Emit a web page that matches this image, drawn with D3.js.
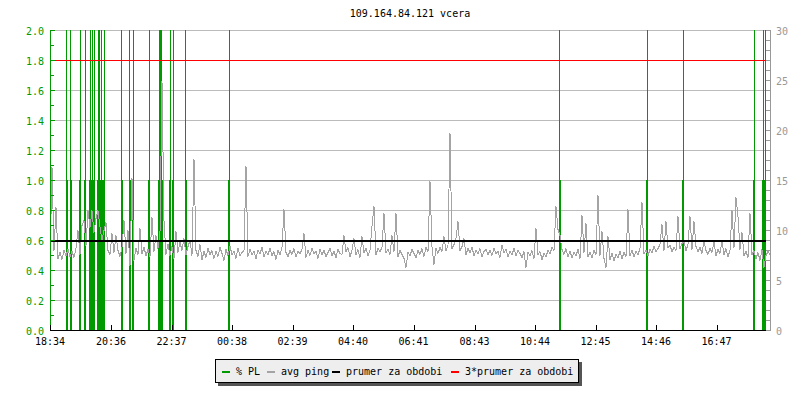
<!DOCTYPE html>
<html><head><meta charset="utf-8">
<script src="https://cdn.jsdelivr.net/npm/d3@7"></script>
<style>
html,body{margin:0;padding:0;background:#fff;}
svg{display:block;}
text{font-family:"DejaVu Sans Mono",monospace;font-size:10px;}
</style></head><body>
<svg id="c" width="800" height="400"></svg>
<script>
// ---------- data ----------
const title = "109.164.84.121 vcera";
const timeLabels = ["18:34","20:36","22:37","00:38","02:39","04:40","06:41","08:43","10:44","12:45","14:46","16:47"];
const leftLabelTicks = [0,0.2,0.4,0.6,0.8,1.0,1.2,1.4,1.6,1.8,2.0];
const rightLabelTicks = [0,5,10,15,20,25,30];
const legendNames = ["% PL","avg ping","prumer za obdobi","3*prumer za obdobi"];
const meanPing = 9;          // ms, "prumer za obdobi"
const pingStepMin = 4;       // minutes between avg ping samples
const plStepMin = 2;         // minutes per packet-loss sample
// avg ping (ms), right axis
const ping = [
6.8,16.3,8.0,12.3,7.2,7.8,7.1,8.0,7.5,8.1,
7.4,7.9,7.3,8.2,10.0,7.6,10.5,11.0,8.5,12.0,
10.3,12.0,9.8,11.2,12.0,10.4,9.0,10.0,10.8,8.0,
7.6,9.7,7.8,9.5,8.0,7.4,8.3,11.0,7.7,10.0,
6.5,15.2,7.0,8.2,7.6,10.2,7.7,8.3,7.5,8.1,
7.4,11.3,7.9,9.5,8.2,9.8,24.9,11.0,7.6,8.6,
7.5,8.4,7.2,9.9,7.8,8.8,8.0,9.2,7.6,8.4,
9.0,7.5,17.1,8.0,7.4,8.6,7.1,7.9,7.3,8.2,
7.6,8.0,7.2,7.9,7.4,8.3,7.7,7.0,8.1,7.5,
8.4,7.6,7.9,7.2,8.2,7.5,7.8,8.0,16.4,7.4,
8.1,7.6,7.9,7.2,8.0,7.7,8.3,7.4,7.9,7.6,
8.2,7.5,7.9,7.1,8.0,7.6,8.3,12.1,7.8,7.4,
8.0,7.6,8.2,7.4,7.9,7.7,8.1,9.7,7.3,8.0,
7.5,8.2,7.7,7.9,7.2,8.1,7.6,8.0,7.4,7.8,
8.2,7.5,7.9,7.3,8.1,7.7,7.6,9.5,7.9,8.3,
7.4,8.0,9.2,7.6,8.1,7.3,9.4,7.8,8.2,7.5,
8.0,10.4,12.4,7.6,8.2,7.9,8.3,11.7,7.8,8.1,
7.6,9.5,7.9,11.7,7.4,8.0,7.6,7.2,6.3,7.8,
7.5,8.1,7.7,7.3,8.0,7.6,8.2,7.4,8.3,7.9,
14.9,8.4,6.6,8.2,7.7,8.3,7.9,9.4,8.0,8.5,
19.7,8.2,8.6,9.2,10.9,8.0,8.4,9.2,7.6,8.2,
7.8,8.3,7.5,8.0,7.7,8.2,7.4,7.9,8.1,7.6,
8.0,7.5,8.2,7.7,7.9,7.3,8.5,7.8,8.1,7.4,
7.9,7.6,8.2,7.5,8.0,7.7,7.3,7.9,6.3,7.8,
7.5,8.0,7.2,10.2,7.6,7.9,7.1,7.7,7.4,8.0,
7.7,8.3,8.0,12.4,10.1,9.5,8.1,7.6,8.2,7.4,
7.9,7.3,7.8,7.5,8.1,7.2,11.5,7.8,10.7,7.4,
7.8,7.3,8.0,7.6,13.5,7.5,9.9,7.2,6.3,9.4,
7.1,7.7,7.0,7.6,7.3,7.9,7.2,7.8,7.4,12.1,
7.5,8.0,7.4,7.9,7.6,8.2,12.8,7.7,8.0,7.5,
8.1,7.8,8.4,7.9,8.2,8.6,10.6,8.0,10.9,8.3,
8.5,7.9,8.3,8.0,11.4,8.2,8.7,8.9,8.0,8.6,
11.4,8.1,10.9,8.4,7.9,8.3,7.7,9.0,8.0,7.6,
8.2,7.8,8.9,7.5,8.1,7.7,9.0,7.6,8.2,7.4,
8.0,12.0,8.3,13.3,11.4,8.1,9.8,7.5,7.9,7.3,
11.7,7.6,8.0,7.2,7.8,7.0,8.1,6.3,7.5,7.9,7.6
];
// packet loss samples (index of 2-minute sample) and values (%), left axis
const plSample = [16,17,20,21,29,30,34,35,39,40,41,42,43,44,47,48,49,50,51,52,53,54,
  71,72,79,80,82,83,98,99,108,109,110,111,112,119,120,122,123,135,136,178,179,
  509,510,596,597,632,633,703,704,712,713,714,715];
const plValue = [5,1,5,1,1,5,1,5,1,5,1,5,1,5,1,5,5,1,5,1,1,5,
  5,1,5,1,1,5,1,5,1,5,5,5,1,1,5,1,5,5,1,1,5,
  5,1,1,5,1,5,1,5,1,5,1,5];

// ---------- colours ----------
const cGreen = "#009a00", cGrey = "#a4a4a4", cAxisGrey = "#999999", cGrid = "#bbbbbb";

// ---------- layout ----------
const X0 = 50, X1 = 770, Y0 = 330, Y1 = 30, XDATAEND = 766;
const svg = d3.select("#c");
const x = d3.scaleLinear().domain([0, 1440]).range([X0, X1]);
const yL = d3.scaleLinear().domain([0, 2]).range([Y0, Y1]);
const yR = d3.scaleLinear().domain([0, 30]).range([Y0, Y1]);
const startMin = 18*60 + 34;
const labelMin = s => { const [h,m] = s.split(":").map(Number); return ((h*60+m) - startMin + 1440) % 1440; };

// grid
svg.append("g").selectAll("line").data(leftLabelTicks.filter(d => d > 0)).join("line")
  .attr("x1", X0).attr("x2", X1 + 1)
  .attr("y1", d => Math.round(yL(d)) + 0.5).attr("y2", d => Math.round(yL(d)) + 0.5)
  .attr("stroke", cGrid).attr("stroke-width", 1).attr("shape-rendering", "crispEdges");

// packet loss bars
const pl = plSample.map((s, i) => ({s, v: plValue[i]}));
svg.append("g").selectAll("rect").data(pl).join("rect")
  .attr("x", d => x(d.s * plStepMin))
  .attr("width", d => x((d.s + 1) * plStepMin) - x(d.s * plStepMin))
  .attr("y", d => yL(Math.min(d.v, 2)))
  .attr("height", d => Y0 - yL(Math.min(d.v, 2)))
  .attr("fill", cGreen).attr("shape-rendering", "crispEdges");

// avg ping line
const line = d3.line().x((d, i) => x(i * pingStepMin)).y(d => Math.round(yR(d)) + 0.5);
svg.append("path").datum(ping).attr("d", line)
  .attr("fill", "none").attr("stroke", cGrey).attr("stroke-width", 1)
  .attr("shape-rendering", "crispEdges");

// mean line and 3*mean line
svg.append("line").attr("x1", X0).attr("x2", XDATAEND)
  .attr("y1", yR(meanPing) + 1).attr("y2", yR(meanPing) + 1)
  .attr("stroke", "#000").attr("stroke-width", 2).attr("shape-rendering", "crispEdges");
svg.append("line").attr("x1", X0).attr("x2", XDATAEND)
  .attr("y1", yR(3*meanPing) + 0.5).attr("y2", yR(3*meanPing) + 0.5)
  .attr("stroke", "#ff0000").attr("stroke-width", 1).attr("shape-rendering", "crispEdges");

// left axis
const gL = svg.append("g").attr("shape-rendering", "crispEdges");
gL.append("line").attr("x1", X0 + 0.5).attr("x2", X0 + 0.5).attr("y1", Y1).attr("y2", Y0 + 1).attr("stroke", cGreen);
gL.selectAll("line.t").data(d3.range(0, 21)).join("line").attr("class", "t")
  .attr("x1", X0).attr("x2", d => X0 + (d % 2 === 0 ? 5 : 4))
  .attr("y1", d => Math.round(yL(d/10)) + 0.5).attr("y2", d => Math.round(yL(d/10)) + 0.5)
  .attr("stroke", cGreen);
svg.append("g").selectAll("text").data(leftLabelTicks).join("text")
  .attr("x", 44).attr("y", d => yL(d) + 5).attr("text-anchor", "end")
  .attr("fill", cGreen).text(d => d3.format(".1f")(d));

// right axis
const gR = svg.append("g").attr("shape-rendering", "crispEdges");
gR.append("line").attr("x1", X1 + 0.5).attr("x2", X1 + 0.5).attr("y1", Y1).attr("y2", Y0 + 1).attr("stroke", cAxisGrey);
gR.selectAll("line.t").data(d3.range(0, 31)).join("line").attr("class", "t")
  .attr("x1", X1 - 4).attr("x2", X1)
  .attr("y1", d => Math.round(yR(d)) + 0.5).attr("y2", d => Math.round(yR(d)) + 0.5)
  .attr("stroke", cAxisGrey);
svg.append("g").selectAll("text").data(rightLabelTicks).join("text")
  .attr("x", 776).attr("y", d => yR(d) + 5).attr("fill", cAxisGrey).text(d => d);

// bottom axis
const gB = svg.append("g").attr("shape-rendering", "crispEdges");
gB.append("line").attr("x1", X0).attr("x2", XDATAEND).attr("y1", Y0 + 0.5).attr("y2", Y0 + 0.5).attr("stroke", "#000");
gB.selectAll("line.t").data(timeLabels).join("line").attr("class", "t")
  .attr("x1", d => Math.round(x(labelMin(d))) + 0.5).attr("x2", d => Math.round(x(labelMin(d))) + 0.5)
  .attr("y1", Y0 - 5).attr("y2", Y0).attr("stroke", "#000");
svg.append("g").selectAll("text").data(timeLabels).join("text")
  .attr("x", d => x(labelMin(d))).attr("y", 345).attr("text-anchor", "middle")
  .attr("fill", "#000").text(d => d);

// title
svg.append("text").attr("x", 410).attr("y", 17).attr("text-anchor", "middle").attr("fill", "#000").text(title);

// legend
const lg = svg.append("g");
lg.append("rect").attr("x", 218).attr("y", 362).attr("width", 364).attr("height", 24).attr("fill", "#555");
lg.append("rect").attr("x", 215.5).attr("y", 359.5).attr("width", 363).attr("height", 23)
  .attr("fill", "#eeeeee").attr("stroke", "#000").attr("shape-rendering", "crispEdges");
const legendColors = [cGreen, cGrey, "#000000", "#ff0000"];
const legendX = [222, 267, 332, 451];
legendNames.forEach((n, i) => {
  lg.append("rect").attr("x", legendX[i]).attr("y", 371).attr("width", 8).attr("height", 2).attr("fill", legendColors[i]);
  lg.append("text").attr("x", legendX[i] + 14).attr("y", 375).attr("fill", "#000").text(n);
});
</script>
</body></html>
